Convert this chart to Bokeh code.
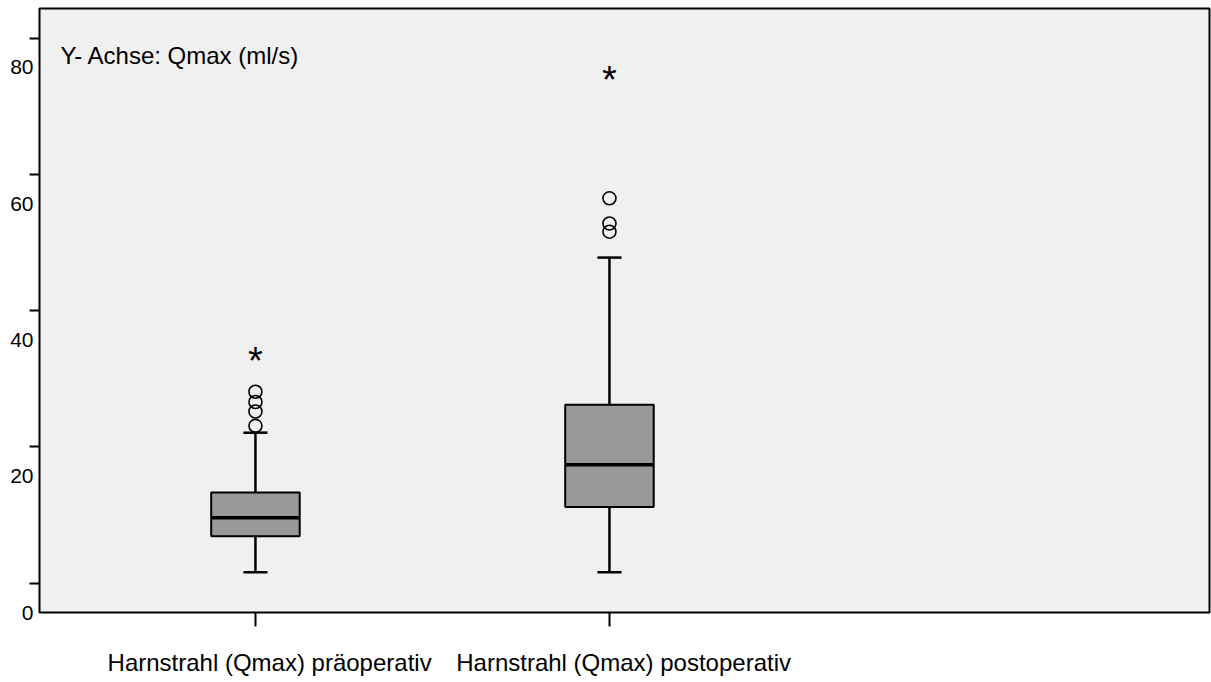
import numpy as np
from bokeh.plotting import figure
from bokeh.models import Range1d, FixedTicker, Label
from bokeh.core.properties import value
from bokeh.embed import file_html
from bokeh.resources import INLINE

# Boxplot summary of Qmax (ml/s) before and after the operation
group_labels = ["Harnstrahl (Qmax) präoperativ", "Harnstrahl (Qmax) postoperativ"]
group_pos = [1, 2]
q1 = [11.2, 15.5]
median = [13.9, 21.7]
q3 = [17.6, 30.5]
whisker_low = [5.9, 5.9]
whisker_high = [26.4, 52.1]

# outliers (circles) and extreme values (asterisks)
outlier_group = [1, 1, 1, 1, 2, 2, 2]
outlier_value = [27.4, 29.5, 30.9, 32.4, 55.9, 57.1, 60.8]
extreme_group = [1, 2]
extreme_value = [37.8, 79.1]

y_tick_labels = [0, 20, 40, 60, 80]
y_tick_marks = [4.3, 24.3, 44.3, 64.3, 84.3]
x_label_pos = [1.04, 2.04]

FONT = "Liberation Sans"
BOX_W = 0.25
CAP_W = 0.068

p = figure(width=1211, height=682,
           x_range=Range1d(0.39, 3.695), y_range=Range1d(0, 88.66),
           output_backend="svg", toolbar_location=None,
           min_border_left=39, min_border_right=2,
           min_border_top=8, min_border_bottom=70)
p.background_fill_color = "#f0f0f0"
p.border_fill_color = "white"
p.outline_line_color = "black"
p.outline_line_width = 2
p.grid.visible = False

x = np.array(group_pos, dtype=float)

# whiskers
p.segment(x0=x, y0=q3, x1=x, y1=whisker_high, line_color="black", line_width=2.5)
p.segment(x0=x, y0=q1, x1=x, y1=whisker_low, line_color="black", line_width=2.5)
p.segment(x0=x - CAP_W / 2, y0=whisker_high, x1=x + CAP_W / 2, y1=whisker_high,
          line_color="black", line_width=2.5)
p.segment(x0=x - CAP_W / 2, y0=whisker_low, x1=x + CAP_W / 2, y1=whisker_low,
          line_color="black", line_width=2.5)

# boxes and medians
p.vbar(x=x, width=BOX_W, bottom=q1, top=q3,
       fill_color="#999999", line_color="black", line_width=2)
p.segment(x0=x - BOX_W / 2, y0=median, x1=x + BOX_W / 2, y1=median,
          line_color="black", line_width=3.5)

# outliers and extremes
p.scatter(x=outlier_group, y=outlier_value, marker="circle", size=13,
          fill_color=None, line_color="black", line_width=1.6)
p.text(x=extreme_group, y=extreme_value, text=["*"] * len(extreme_group),
       text_font=value(FONT), text_font_size="38px", text_color="black",
       text_align="center", text_baseline="middle", y_offset=6)

p.add_layout(Label(x=0.449, y=81.7, text="Y- Achse: Qmax (ml/s)",
                   text_font=FONT, text_font_size="24px", text_color="black",
                   text_baseline="middle", text_align="left"))

# y axis: labels and tick marks sit at their own positions
p.yaxis.ticker = FixedTicker(ticks=y_tick_labels, minor_ticks=y_tick_marks)
p.yaxis.axis_line_color = None
p.yaxis.major_tick_out = 0
p.yaxis.major_tick_in = 0
p.yaxis.minor_tick_out = 10
p.yaxis.minor_tick_in = 0
p.yaxis.minor_tick_line_width = 2
p.yaxis.minor_tick_line_color = "black"
p.yaxis.major_label_standoff = -4
p.yaxis.major_label_text_font = FONT
p.yaxis.major_label_text_font_size = "21px"
p.yaxis.major_label_text_color = "black"

# x axis: category tick marks with their labels
p.xaxis.ticker = FixedTicker(ticks=x_label_pos, minor_ticks=group_pos)
p.xaxis.major_label_overrides = dict(zip(x_label_pos, group_labels))
p.xaxis.axis_line_color = None
p.xaxis.major_tick_out = 0
p.xaxis.major_tick_in = 0
p.xaxis.minor_tick_out = 14
p.xaxis.minor_tick_in = 0
p.xaxis.minor_tick_line_width = 2
p.xaxis.minor_tick_line_color = "black"
p.xaxis.major_label_standoff = 22
p.xaxis.major_label_text_font = FONT
p.xaxis.major_label_text_font_size = "24px"
p.xaxis.major_label_text_color = "black"

open("out.html", "w").write(file_html(p, INLINE))
